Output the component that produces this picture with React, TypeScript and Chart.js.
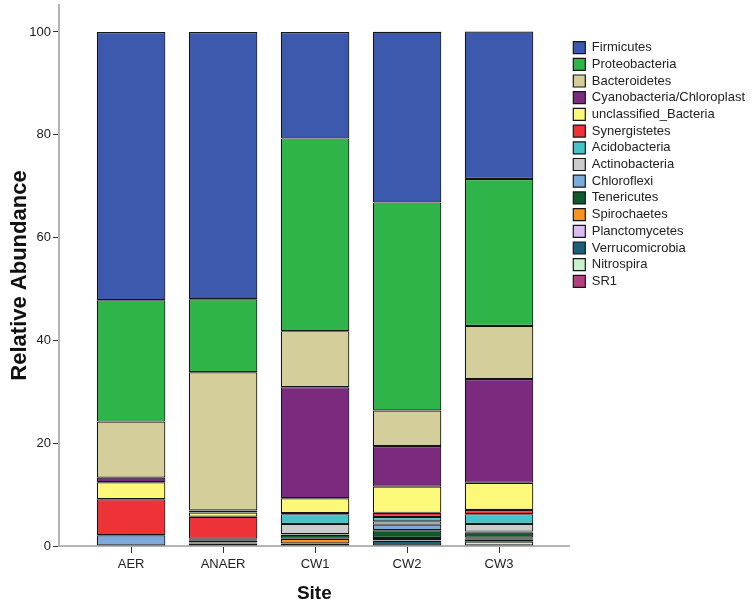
import React, { useEffect, useRef } from "react";
import { Chart, registerables } from "chart.js";

Chart.register(...registerables);

const sites = ["AER", "ANAER", "CW1", "CW2", "CW3"];

// Stacked bottom-up order (legend shown reversed)
const SR1 = [0, 0.1, 0, 0, 0];
const Nitrospira = [0, 0, 0, 0, 0.85];
const Verrucomicrobia = [0, 0.3, 0, 1.0, 0.45];
const Planctomycetes = [0, 0, 0.5, 0.1, 0.1];
const Spirochaetes = [0, 0.1, 0.9, 0.45, 0.2];
const Tenericutes = [0, 0.2, 0.8, 1.5, 1.0];
const Chloroflexi = [2.1, 0.3, 0.1, 1.1, 0.2];
const Actinobacteria = [0, 0.2, 2.0, 0.65, 1.5];
const Acidobacteria = [0, 0.2, 1.9, 0.85, 1.9];
const Synergistetes = [7.0, 4.3, 0.2, 0.8, 0.8];
const unclassified_Bacteria = [3.3, 0.8, 2.9, 5.1, 5.3];
const Cyanobacteria = [0.9, 0.4, 21.6, 7.9, 20.2];
const Bacteroidetes = [10.9, 26.9, 10.9, 6.9, 10.3];
const Proteobacteria = [23.6, 14.2, 37.5, 40.5, 28.6];
const Firmicutes = [52.2, 52.0, 20.7, 33.2, 28.7];

const seriesNames = [
  "SR1",
  "Nitrospira",
  "Verrucomicrobia",
  "Planctomycetes",
  "Spirochaetes",
  "Tenericutes",
  "Chloroflexi",
  "Actinobacteria",
  "Acidobacteria",
  "Synergistetes",
  "unclassified_Bacteria",
  "Cyanobacteria/Chloroplast",
  "Bacteroidetes",
  "Proteobacteria",
  "Firmicutes",
];
const seriesValues = [
  SR1,
  Nitrospira,
  Verrucomicrobia,
  Planctomycetes,
  Spirochaetes,
  Tenericutes,
  Chloroflexi,
  Actinobacteria,
  Acidobacteria,
  Synergistetes,
  unclassified_Bacteria,
  Cyanobacteria,
  Bacteroidetes,
  Proteobacteria,
  Firmicutes,
];
const seriesColors = [
  "#b5407f",
  "#c8f2cf",
  "#1c6078",
  "#dcbaf2",
  "#f7931e",
  "#0f5a2e",
  "#7eaadb",
  "#cccccc",
  "#46c3c6",
  "#ee3338",
  "#fbf87a",
  "#7b2a7d",
  "#d4ce9a",
  "#2fb44a",
  "#3d59ad",
];

const yTicks = [0, 20, 40, 60, 80, 100];

export default function App() {
  const ref = useRef<HTMLCanvasElement | null>(null);
  useEffect(() => {
    if (!ref.current) return;
    const font = "'Liberation Sans', Arial, sans-serif";
    const chart = new Chart(ref.current, {
      type: "bar",
      data: {
        datasets: seriesNames.map((name, k) => ({
          label: name,
          data: seriesValues[k].map((v, i) => ({ x: i, y: v })),
          backgroundColor: seriesColors[k],
          borderColor: "#151515",
          borderWidth: 1.2,
          borderSkipped: false,
          categoryPercentage: 1,
          barPercentage: 0.745,
        })),
      },
      options: {
        animation: false,
        responsive: true,
        maintainAspectRatio: false,
        layout: { padding: { top: 5, right: 0, left: 0, bottom: 0 } },
        plugins: {
          tooltip: { enabled: false },
          legend: {
            position: "right",
            align: "start",
            reverse: true,
            title: { display: true, text: " ", padding: { top: 18, bottom: 0 }, font: { size: 12, family: font } },
            labels: {
              boxWidth: 12,
              boxHeight: 12,
              padding: 3.7,
              color: "#222",
              font: { size: 13, family: font },
            },
          },
        },
        scales: {
          x: {
            type: "linear",
            stacked: true,
            offset: false,
            min: -0.7837,
            max: 4.767,
            afterFit: (s: any) => {
              s.height = 59;
              s.paddingLeft = 0;
              s.paddingRight = 0;
            },
            border: { display: true, color: "#b4b4b4", width: 2 },
            grid: { offset: false, drawOnChartArea: false, drawTicks: true, tickLength: 7, tickColor: "#333" },
            ticks: {
              stepSize: 1,
              includeBounds: false,
              autoSkip: false,
              padding: 4,
              color: "#222",
              font: { size: 13, family: font },
              callback: (v: any) => (Number.isInteger(v) && sites[v] ? sites[v] : ""),
            },
            title: {
              display: true,
              text: "Site",
              color: "#111",
              font: { size: 19, weight: "bold", family: font },
              padding: { top: 0, bottom: 0 },
            },
          },
          y: {
            stacked: true,
            min: 0,
            max: 105.25,
            afterFit: (s: any) => {
              s.width = 59;
              s.paddingTop = 0;
              s.paddingBottom = 0;
            },
            border: { display: true, color: "#b4b4b4", width: 2 },
            grid: { drawOnChartArea: false, drawTicks: true, tickLength: 6, tickColor: "#333" },
            afterBuildTicks: (s: any) => {
              s.ticks = yTicks.map((v) => ({ value: v }));
            },
            ticks: {
              padding: 2,
              color: "#222",
              font: { size: 13, family: font },
            },
            title: {
              display: true,
              text: "Relative Abundance",
              color: "#111",
              font: { size: 22, weight: "bold", family: font },
              padding: { top: 7, bottom: 0 },
            },
          },
        },
      },
    } as any);
    return () => chart.destroy();
  }, []);
  return (
    <div style={{ position: "fixed", left: 0, top: 0, width: 755, height: 605, background: "#fff" }}>
      <canvas ref={ref} />
    </div>
  );
}
